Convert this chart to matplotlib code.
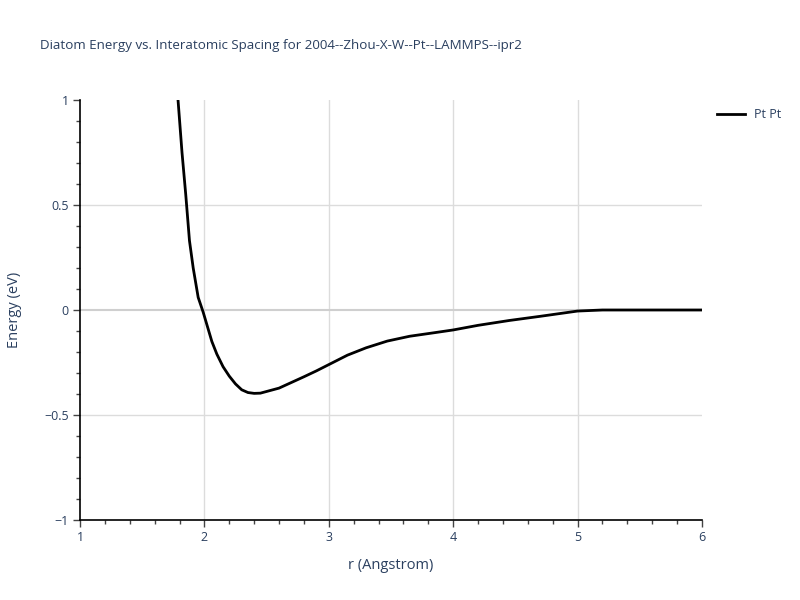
import matplotlib
matplotlib.use("Agg")
import matplotlib.pyplot as plt
from matplotlib.ticker import MultipleLocator, FuncFormatter

r = [1.788, 1.82, 1.85, 1.88, 1.91, 1.95, 1.99, 2.02, 2.06, 2.1, 2.15, 2.2,
     2.25, 2.3, 2.35, 2.4, 2.45, 2.5, 2.6, 2.7, 2.8, 2.9, 3.0, 3.15, 3.3,
     3.47, 3.65, 3.85, 4.0, 4.2, 4.45, 4.7, 5.0, 5.2, 6.0]
energy = [1.0, 0.75, 0.55, 0.33, 0.20, 0.06, -0.01, -0.07, -0.15, -0.21,
          -0.27, -0.315, -0.352, -0.38, -0.393, -0.397, -0.396, -0.388,
          -0.372, -0.345, -0.318, -0.29, -0.26, -0.215, -0.18, -0.148,
          -0.125, -0.108, -0.095, -0.073, -0.05, -0.03, -0.005, 0.0, 0.0]

title = "Diatom Energy vs. Interatomic Spacing for 2004--Zhou-X-W--Pt--LAMMPS--ipr2"
series_label = "Pt Pt"
x_label = "r (Angstrom)"
y_label = "Energy (eV)"

plt.rcParams['font.family'] = ['Open Sans', 'DejaVu Sans']
txt = "#2a3f5f"

fig = plt.figure(figsize=(8, 6), dpi=100)
ax = fig.add_axes([80/800, 1-520/600, 622/800, 420/600])

ax.set_xlim(1, 6)
ax.set_ylim(-1, 1)
ax.xaxis.set_major_locator(MultipleLocator(1))
ax.xaxis.set_minor_locator(MultipleLocator(0.2))
ax.yaxis.set_major_locator(MultipleLocator(0.5))
ax.yaxis.set_minor_locator(MultipleLocator(0.1))

def yfmt(v, pos):
    if abs(v) < 1e-9:
        return "0"
    s = ("%g" % v)
    return s.replace("-", "\u2212")
ax.yaxis.set_major_formatter(FuncFormatter(yfmt))
ax.xaxis.set_major_formatter(FuncFormatter(lambda v, p: "%d" % round(v)))

for x in [2, 3, 4, 5]:
    ax.axvline(x, color="#dcdcdc", lw=1, zorder=0)
for y in [0.5, -0.5]:
    ax.axhline(y, color="#dcdcdc", lw=1, zorder=0)
ax.axhline(0, color="#cfcfcf", lw=1.5, zorder=0)

ax.plot(r, energy, color="black", lw=2, label=series_label, zorder=3, clip_on=True)

for s in ["top", "right"]:
    ax.spines[s].set_visible(False)
for s in ["left", "bottom"]:
    ax.spines[s].set_color("black")
    ax.spines[s].set_linewidth(1.2)

ax.tick_params(which="major", direction="out", length=5, width=1, color="#444444",
               labelcolor=txt, labelsize=9, pad=3)
ax.tick_params(which="minor", direction="out", length=3, width=1, color="#444444")

ax.set_xlabel(x_label, color=txt, fontsize=10.5, labelpad=10)
ax.set_ylabel(y_label, color=txt, fontsize=10.5, labelpad=16)

fig.text(40/800, 1-45/600, title, color=txt, fontsize=9.6, va="center", ha="left")

leg = fig.legend(loc="upper left", bbox_to_anchor=(712/800, 1-103/600), frameon=False,
                 fontsize=9, handlelength=2.2, labelcolor=txt, borderaxespad=0)

fig.savefig("out.png", dpi=100)
